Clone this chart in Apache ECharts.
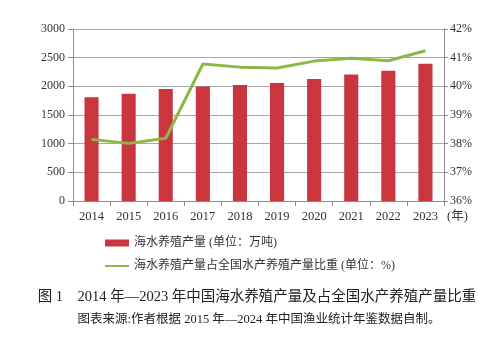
<!DOCTYPE html>
<html><head><meta charset="utf-8">
<script src="https://cdn.jsdelivr.net/npm/echarts@6/dist/echarts.min.js"></script>
<style>html,body{margin:0;padding:0;background:#fff}#c{width:500px;height:349px}</style>
</head><body><div id="c"></div>
<script>
const years = ['2014','2015','2016','2017','2018','2019','2020','2021','2022','2023'];
const output = [1810, 1870, 1955, 1995, 2025, 2060, 2130, 2205, 2270, 2395];
const share = [38.15, 38.01, 38.19, 40.78, 40.67, 40.64, 40.88, 40.98, 40.89, 41.24];
const leftTicks = [0, 3000, 500];
const rightTicks = [36, 42, 1];
const barName = '海水养殖产量 (单位：万吨)';
const lineName = '海水养殖产量占全国水产养殖产量比重 (单位：%)';
const titleText = '图 1    2014 年—2023 年中国海水养殖产量及占全国水产养殖产量比重';
const subText = '图表来源:作者根据 2015 年—2024 年中国渔业统计年鉴数据自制。';

const FONT = '"Liberation Serif", "Noto Sans CJK SC", serif';
const chart = echarts.init(document.getElementById('c'), null, {renderer:'canvas'});
chart.setOption({
  animation: false,
  textStyle: {fontFamily: FONT},
  grid: {left: 73, right: 56, top: 29, bottom: 148},
  legend: {
    orient: 'vertical', left: 100, top: 232, itemWidth: 24, itemHeight: 7, itemGap: 11,
    textStyle: {fontFamily: FONT, fontSize: 12, color: '#333'},
    data: [
      {name: barName, icon: 'rect'},
      {name: lineName, icon: 'path://M0,0 L24,0 L24,2 L0,2 Z'}
    ]
  },
  xAxis: {
    type: 'category', data: years, boundaryGap: true,
    name: '(年)', nameLocation: 'end', nameGap: 3,
    nameTextStyle: {fontFamily: FONT, fontSize: 12.5, color: '#333', verticalAlign: 'top', padding: [9,0,0,0]},
    axisLine: {lineStyle: {color: '#8c8c8c'}},
    axisTick: {show: true, length: 5, lineStyle: {color: '#8c8c8c'}},
    axisLabel: {fontFamily: FONT, fontSize: 12.5, color: '#333', margin: 9}
  },
  yAxis: [
    {type: 'value', min: leftTicks[0], max: leftTicks[1], interval: leftTicks[2],
     axisLine: {show: true, lineStyle: {color: '#8c8c8c'}},
     axisTick: {show: true, length: 5, lineStyle: {color: '#8c8c8c'}},
     axisLabel: {fontFamily: FONT, fontSize: 12, color: '#333', margin: 8, formatter: function(v){return String(v);}},
     splitLine: {lineStyle: {color: '#a8a8a8'}}},
    {type: 'value', min: rightTicks[0], max: rightTicks[1], interval: rightTicks[2],
     axisLine: {show: true, lineStyle: {color: '#8c8c8c'}},
     axisTick: {show: true, length: 4, lineStyle: {color: '#8c8c8c'}},
     axisLabel: {fontFamily: FONT, fontSize: 12, color: '#333', margin: 6, formatter: '{value}%'},
     splitLine: {show: false}}
  ],
  series: [
    {name: barName, type: 'bar', data: output, barWidth: '38%', itemStyle: {color: '#c9363e'}},
    {name: lineName, type: 'line', yAxisIndex: 1, data: share, symbol: 'none',
     lineStyle: {color: '#8cb847', width: 3}, itemStyle: {color: '#8cb847'}}
  ],
  graphic: [
    {type: 'text', x: 257, y: 290, style: {text: titleText, font: '14.5px ' + FONT, fill: '#222', align: 'center'}},
    {type: 'text', x: 259, y: 313, style: {text: subText, font: '12.5px ' + FONT, fill: '#222', align: 'center'}}
  ]
});
</script></body></html>
